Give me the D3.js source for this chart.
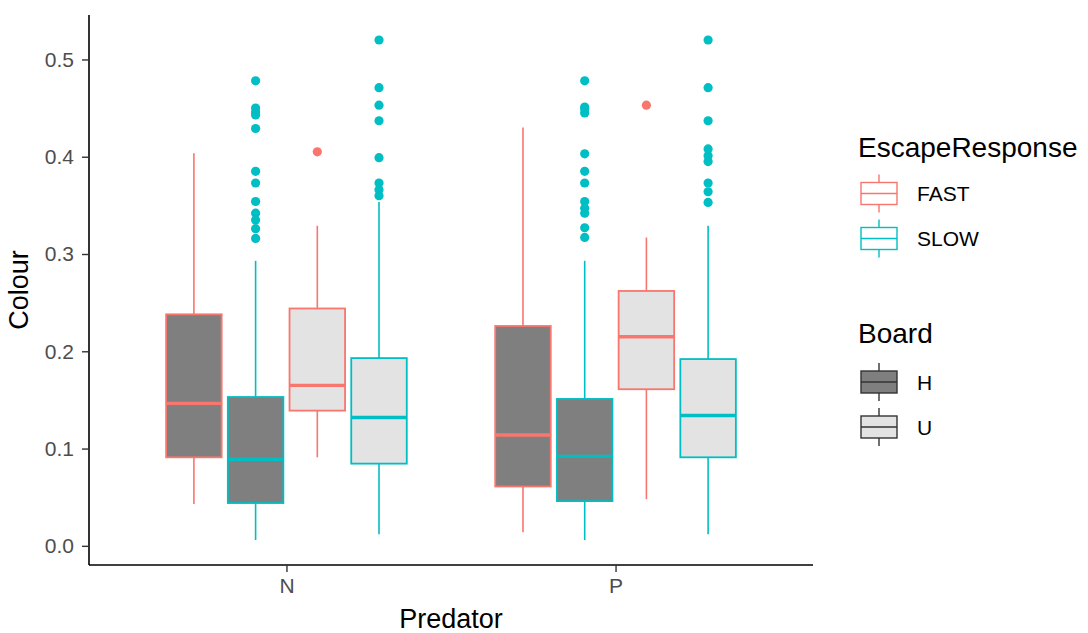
<!DOCTYPE html>
<html>
<head>
<meta charset="utf-8">
<script src="https://cdn.jsdelivr.net/npm/d3@7"></script>
<style>
  body { margin: 0; background: #fff; }
  svg { font-family: "Liberation Sans", Arial, sans-serif; }
  .tick-label { fill: #4d4d4d; font-size: 21px; }
  .axis-title { fill: #000; font-size: 27px; }
  .legend-title { fill: #000; font-size: 28px; }
  .legend-label { fill: #000; font-size: 21px; }
</style>
</head>
<body>
<div id="chart"></div>
<script>
// categories
const predators = ["N", "P"];
const responses = ["FAST", "SLOW"];
const boards = ["H", "U"];
const dodgeGroups = ["FAST.H", "SLOW.H", "FAST.U", "SLOW.U"];
const yTicks = [0, 0.1, 0.2, 0.3, 0.4, 0.5];

// box statistics, one entry per box
const boxPredator = ["N", "N", "N", "N", "P", "P", "P", "P"];
const boxResponse = ["FAST", "SLOW", "FAST", "SLOW", "FAST", "SLOW", "FAST", "SLOW"];
const boxBoard = ["H", "H", "U", "U", "H", "H", "U", "U"];
const whiskerLow = [0.043, 0.006, 0.091, 0.012, 0.014, 0.006, 0.048, 0.012];
const q1 = [0.091, 0.044, 0.139, 0.0845, 0.061, 0.046, 0.161, 0.091];
const median = [0.1465, 0.089, 0.165, 0.132, 0.114, 0.092, 0.215, 0.134];
const q3 = [0.238, 0.153, 0.244, 0.193, 0.226, 0.151, 0.262, 0.192];
const whiskerHigh = [0.4035, 0.293, 0.329, 0.3535, 0.430, 0.293, 0.317, 0.329];
const outliers = [
    [],
    [0.478, 0.450, 0.446, 0.443, 0.429, 0.385, 0.373, 0.354, 0.342, 0.335, 0.326, 0.316],
    [0.405],
    [0.520, 0.471, 0.453, 0.437, 0.399, 0.373, 0.366, 0.360],
    [],
    [0.478, 0.451, 0.449, 0.445, 0.403, 0.385, 0.373, 0.354, 0.347, 0.342, 0.327, 0.317],
    [0.453],
    [0.520, 0.471, 0.437, 0.408, 0.401, 0.395, 0.373, 0.364, 0.353]
];

const width = 1088, height = 633;
const panel = { left: 89, right: 813, top: 15, bottom: 565 };

const colorScale = d3.scaleOrdinal().domain(responses).range(["#F8766D", "#00BFC4"]);
const fillScale = d3.scaleOrdinal().domain(boards).range(["#7f7f7f", "#e3e3e3"]);

const boxes = boxPredator.map((p, i) => ({
    predator: p, response: boxResponse[i], board: boxBoard[i],
    lo: whiskerLow[i], q1: q1[i], med: median[i], q3: q3[i], hi: whiskerHigh[i],
    out: outliers[i]
}));

// y domain with ggplot-like 5% expansion
const allVals = boxes.flatMap(b => [b.lo, b.hi, ...b.out]);
const yMin = d3.min(allVals), yMax = d3.max(allVals);
const pad = (yMax - yMin) * 0.05;
const yScale = d3.scaleLinear()
    .domain([yMin - pad, yMax + pad])
    .range([panel.bottom, panel.top]);

const xScale = d3.scalePoint()
    .domain(predators)
    .range([panel.left, panel.right])
    .padding(0.6);

const step = xScale.step();
const dodgeScale = d3.scaleBand()
    .domain(dodgeGroups)
    .range([-0.375 * step, 0.375 * step]);
const boxWidth = dodgeScale.bandwidth() * 0.9;

const svg = d3.select("#chart")
    .append("svg")
    .attr("width", width)
    .attr("height", height);

// boxes
const boxG = svg.append("g")
    .selectAll("g")
    .data(boxes)
    .join("g")
    .attr("transform", d => `translate(${xScale(d.predator) + dodgeScale(d.response + "." + d.board) + dodgeScale.bandwidth() / 2},0)`);

boxG.append("line")
    .attr("y1", d => yScale(d.hi))
    .attr("y2", d => yScale(d.q3))
    .attr("stroke", d => colorScale(d.response))
    .attr("stroke-width", 1.6);

boxG.append("line")
    .attr("y1", d => yScale(d.q1))
    .attr("y2", d => yScale(d.lo))
    .attr("stroke", d => colorScale(d.response))
    .attr("stroke-width", 1.6);

boxG.append("rect")
    .attr("x", -boxWidth / 2)
    .attr("width", boxWidth)
    .attr("y", d => yScale(d.q3))
    .attr("height", d => yScale(d.q1) - yScale(d.q3))
    .attr("fill", d => fillScale(d.board))
    .attr("stroke", d => colorScale(d.response))
    .attr("stroke-width", 1.8);

boxG.append("line")
    .attr("x1", -boxWidth / 2)
    .attr("x2", boxWidth / 2)
    .attr("y1", d => yScale(d.med))
    .attr("y2", d => yScale(d.med))
    .attr("stroke", d => colorScale(d.response))
    .attr("stroke-width", 3.4);

boxG.selectAll("circle")
    .data(d => d.out.map(v => ({ v, response: d.response })))
    .join("circle")
    .attr("cx", 0)
    .attr("cy", d => yScale(d.v))
    .attr("r", 4.6)
    .attr("fill", d => colorScale(d.response));

// axes
const leftAxis = d3.axisLeft(yScale)
    .tickValues(yTicks)
    .tickFormat(d3.format(".1f"))
    .tickSize(7)
    .tickPadding(8);

const yAxisG = svg.append("g")
    .attr("transform", `translate(${panel.left},0)`)
    .call(leftAxis);
yAxisG.select(".domain").attr("d", `M0,${panel.top}V${panel.bottom}`).attr("stroke", "#000").attr("stroke-width", 1.6);
yAxisG.selectAll(".tick line").attr("stroke", "#333").attr("stroke-width", 1.4);
yAxisG.selectAll(".tick text").attr("class", "tick-label").attr("font-size", null).attr("font-family", null);

const bottomAxis = d3.axisBottom(xScale)
    .tickSize(7)
    .tickPadding(6);

const xAxisG = svg.append("g")
    .attr("transform", `translate(0,${panel.bottom})`)
    .call(bottomAxis);
xAxisG.select(".domain").attr("d", `M${panel.left},0H${panel.right}`).attr("stroke", "#000").attr("stroke-width", 1.6);
xAxisG.selectAll(".tick line").attr("stroke", "#333").attr("stroke-width", 1.4);
xAxisG.selectAll(".tick text").attr("class", "tick-label").attr("font-size", null).attr("font-family", null);

// axis titles
svg.append("text")
    .attr("class", "axis-title")
    .attr("x", (panel.left + panel.right) / 2)
    .attr("y", 628)
    .attr("text-anchor", "middle")
    .text("Predator");

svg.append("text")
    .attr("class", "axis-title")
    .attr("transform", `translate(28,${(panel.top + panel.bottom) / 2}) rotate(-90)`)
    .attr("text-anchor", "middle")
    .text("Colour");

// legends
const keyX = 861, keyW = 36, keyH = 22, labelX = 917;

const drawKey = (g, stroke, fill) => {
    g.append("line")
        .attr("x1", keyX + keyW / 2).attr("x2", keyX + keyW / 2)
        .attr("y1", -keyH / 2 - 8).attr("y2", keyH / 2 + 8)
        .attr("stroke", stroke).attr("stroke-width", 1.4);
    g.append("rect")
        .attr("x", keyX).attr("y", -keyH / 2)
        .attr("width", keyW).attr("height", keyH)
        .attr("fill", fill).attr("stroke", stroke).attr("stroke-width", 1.4);
    g.append("line")
        .attr("x1", keyX).attr("x2", keyX + keyW)
        .attr("y1", 0).attr("y2", 0)
        .attr("stroke", stroke).attr("stroke-width", 1.4);
};

svg.append("text")
    .attr("class", "legend-title")
    .attr("x", 858)
    .attr("y", 157)
    .text("EscapeResponse");

responses.forEach((r, i) => {
    const g = svg.append("g").attr("transform", `translate(0,${193.5 + i * 45})`);
    drawKey(g, colorScale(r), "#fff");
    g.append("text")
        .attr("class", "legend-label")
        .attr("x", labelX)
        .attr("y", 0)
        .attr("dy", "0.36em")
        .text(r);
});

svg.append("text")
    .attr("class", "legend-title")
    .attr("x", 858)
    .attr("y", 343)
    .text("Board");

boards.forEach((b, i) => {
    const g = svg.append("g").attr("transform", `translate(0,${382 + i * 45})`);
    drawKey(g, "#333", fillScale(b));
    g.append("text")
        .attr("class", "legend-label")
        .attr("x", labelX)
        .attr("y", 0)
        .attr("dy", "0.36em")
        .text(b);
});
</script>
</body>
</html>
